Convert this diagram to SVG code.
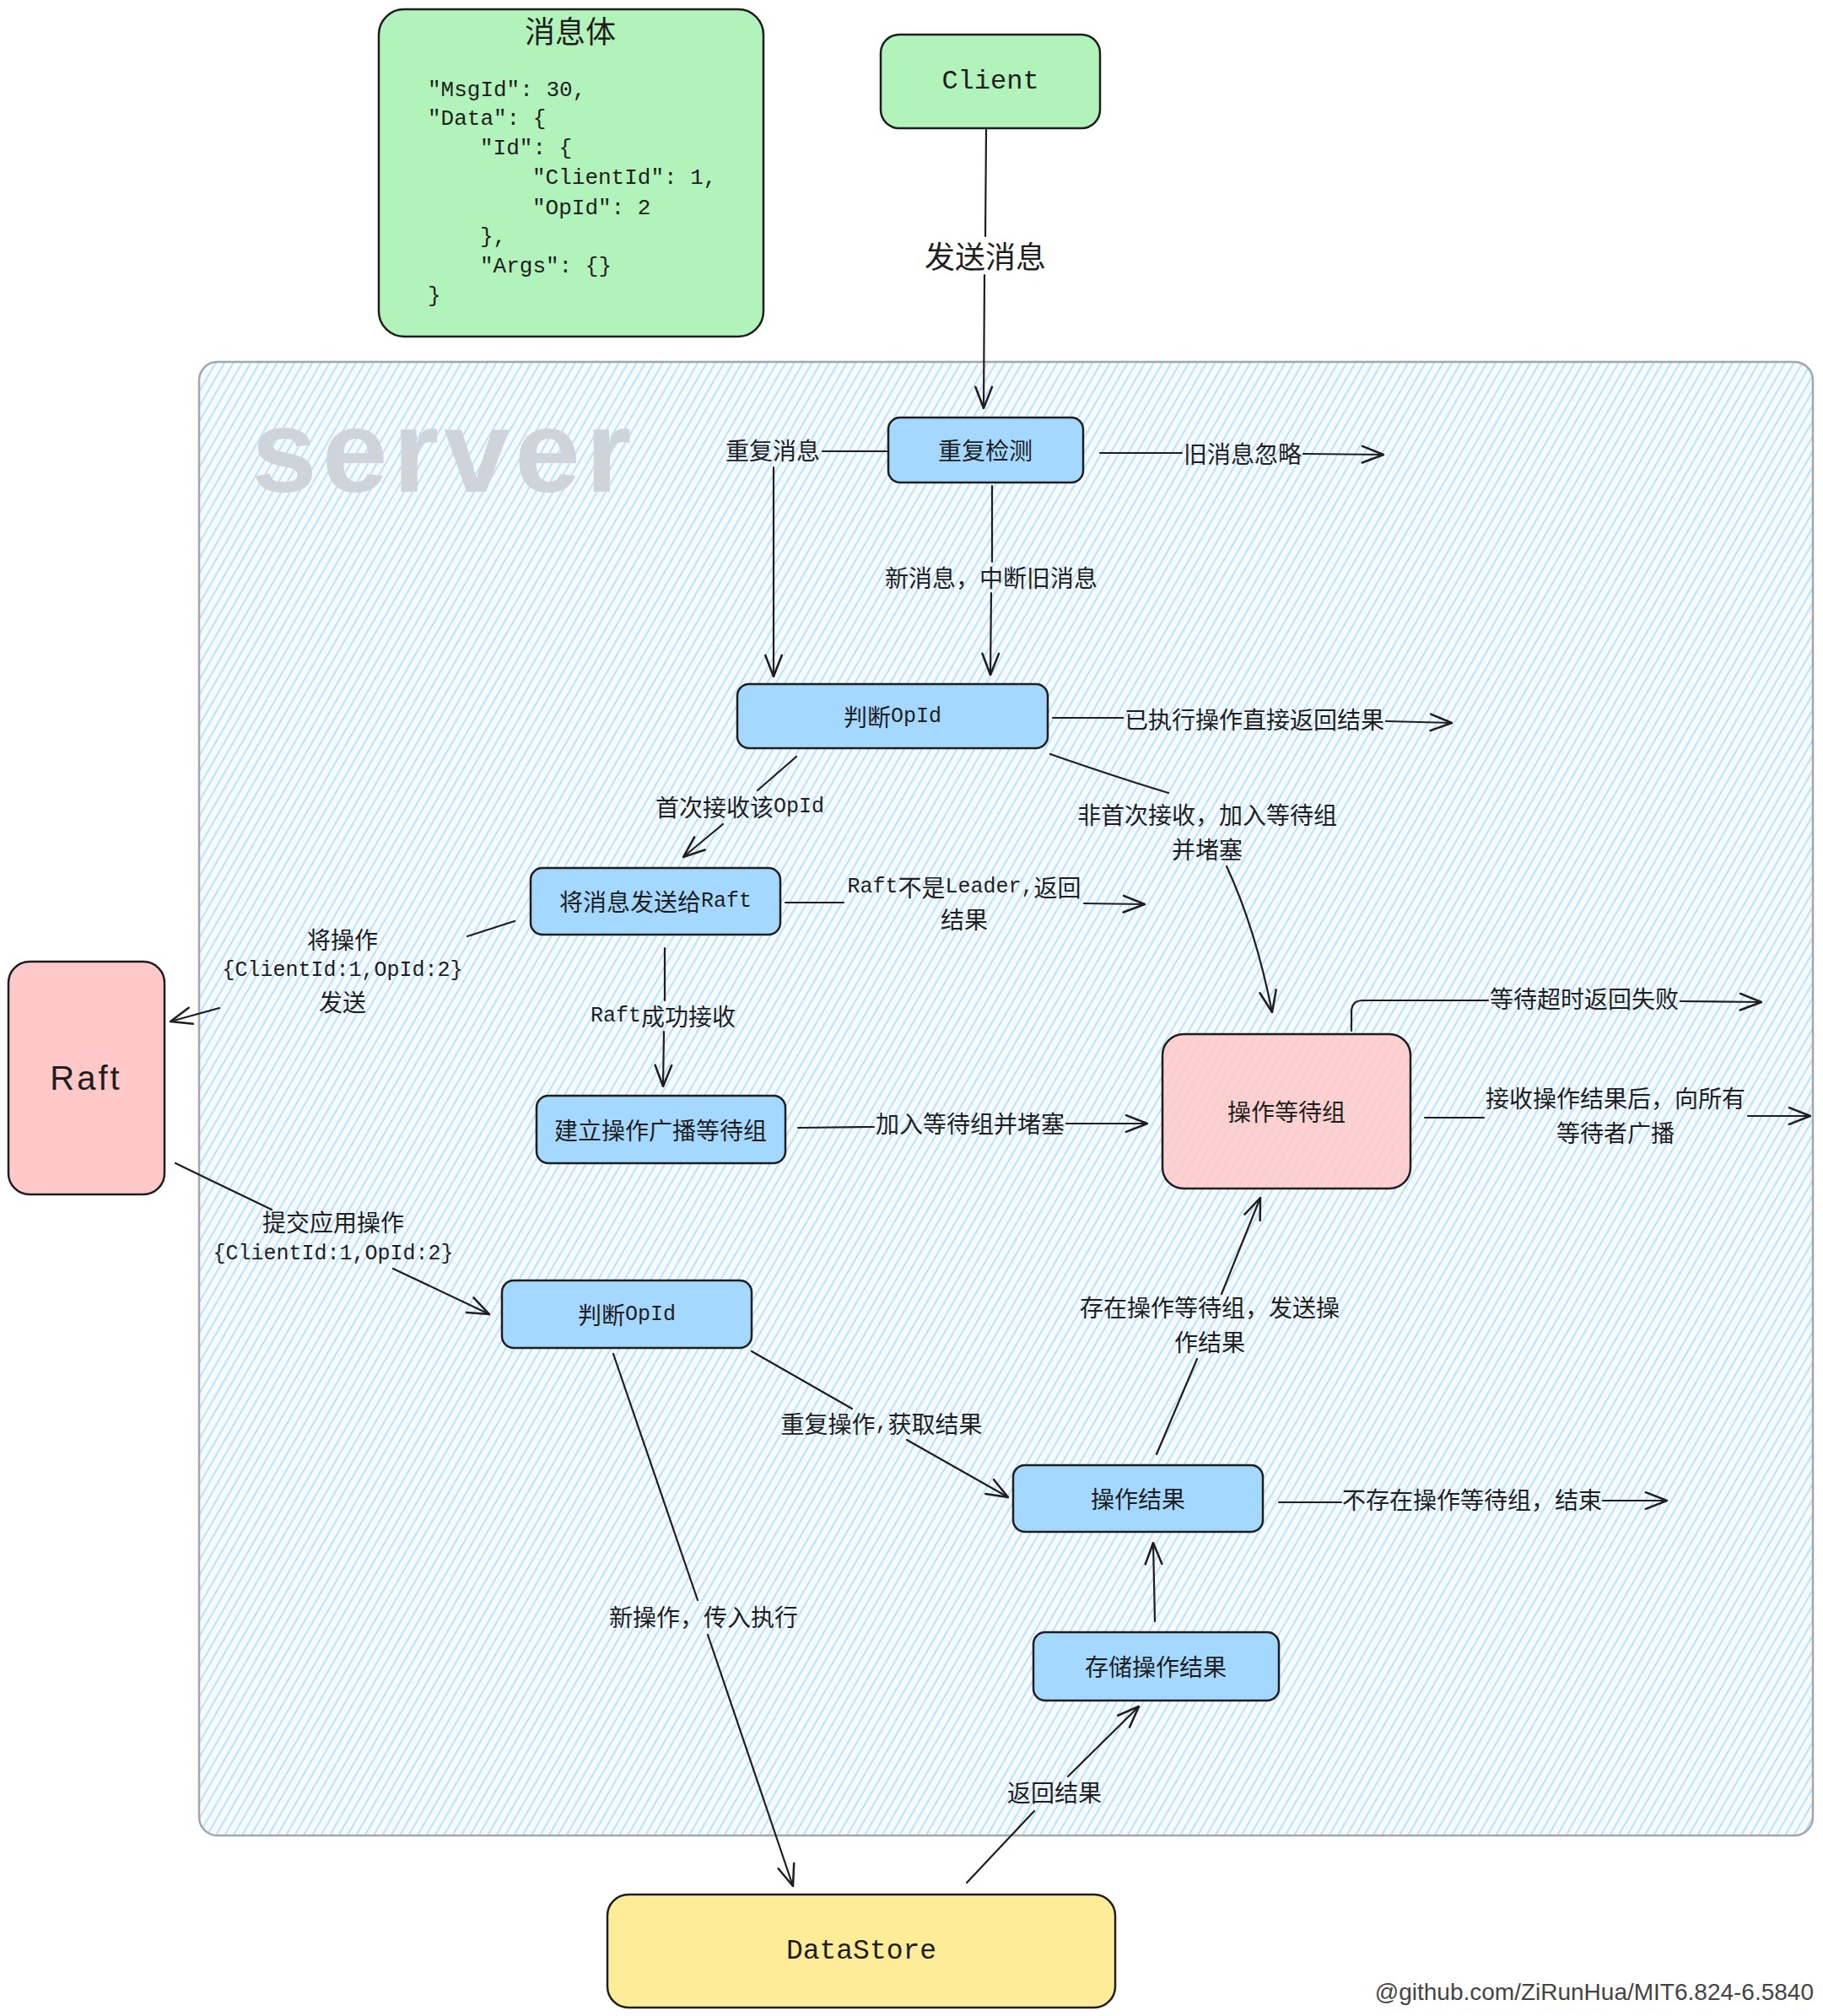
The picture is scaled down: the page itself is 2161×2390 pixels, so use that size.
<svg xmlns="http://www.w3.org/2000/svg" width="2161" height="2390" viewBox="0 0 2161 2390">
<defs>
<style>
.n{stroke:#1e1e1e;stroke-width:2.5}
.blue{fill:#a5d8ff}
.green{fill:#b2f2bb}
.pink{fill:#ffc9c9}
.t{font-family:"Noto Sans CJK SC","Liberation Sans",sans-serif;font-size:28px;fill:#1e1e1e;text-anchor:middle;dominant-baseline:central}
.m{font-family:"Liberation Mono","Noto Sans CJK SC",monospace;font-size:25px}
.big{font-size:36px}
.mono{font-family:"Liberation Mono",monospace}
.code{font-family:"Liberation Mono","Noto Sans CJK SC",monospace;font-size:26px;fill:#1e1e1e;dominant-baseline:central}
.e{fill:none;stroke:#1e1e1e;stroke-width:2.2;stroke-linecap:round}
.a{marker-end:url(#ah)}
</style>
<marker id="ah" viewBox="0 0 20 20" refX="19" refY="10" markerWidth="28" markerHeight="28" markerUnits="userSpaceOnUse" orient="auto">
<path d="M1,3 L19,10 L1,17" fill="none" stroke="#1e1e1e" stroke-width="1.8" stroke-linecap="round" stroke-linejoin="round"/>
</marker>
<pattern id="hach" patternUnits="userSpaceOnUse" width="9" height="9" patternTransform="rotate(30)">
<rect width="9" height="9" fill="#f6fbff"/>
<line x1="4.5" y1="0" x2="4.5" y2="9" stroke="#a5d8ff" stroke-width="1.5"/>
</pattern>
</defs>
<rect width="2161" height="2390" fill="#ffffff"/>

<g id="server">
<rect x="236" y="429" width="1913" height="1747" rx="22" fill="url(#hach)" stroke="#a3a7ab" stroke-width="2.5"/>
<text x="298" y="583" font-family="Liberation Sans, sans-serif" font-weight="bold" font-size="140" letter-spacing="6" fill="#ced4da">server</text>
</g>

<g id="msgbody">
<rect class="n green" x="449" y="11" width="456" height="388" rx="30"/>
<text class="t big" x="676" y="35">消息体</text>
<text class="code" x="507" y="107">"MsgId": 30,</text>
<text class="code" x="507" y="141">"Data": {</text>
<text class="code" x="569" y="176">"Id": {</text>
<text class="code" x="631" y="211">"ClientId": 1,</text>
<text class="code" x="631" y="247">"OpId": 2</text>
<text class="code" x="569" y="281">},</text>
<text class="code" x="569" y="316">"Args": {}</text>
<text class="code" x="507" y="351">}</text>
</g>

<g id="client">
<rect class="n green" x="1044" y="41" width="260" height="111" rx="22"/>
<text class="t mono" x="1174" y="96" style="font-size:32px">Client</text>
</g>

<g id="dup-check">
<rect class="n blue" x="1053" y="495" width="231" height="77" rx="14"/>
<text class="t" x="1168" y="533">重复检测</text>
</g>

<g id="judge-opid-1">
<rect class="n blue" x="874" y="811" width="368" height="76" rx="14"/>
<text class="t" x="1058" y="849">判断<tspan class="m">OpId</tspan></text>
</g>

<g id="send-raft">
<rect class="n blue" x="629" y="1029" width="296" height="79" rx="14"/>
<text class="t" x="777" y="1068">将消息发送给<tspan class="m">Raft</tspan></text>
</g>

<g id="build-group">
<rect class="n blue" x="636" y="1299" width="295" height="80" rx="14"/>
<text class="t" x="783" y="1339">建立操作广播等待组</text>
</g>

<g id="wait-group">
<rect class="n pink" x="1378" y="1226" width="294" height="183" rx="25" fill-opacity="0.85"/>
<text class="t" x="1525" y="1317">操作等待组</text>
</g>

<g id="raft">
<rect class="n pink" x="10" y="1140" width="185" height="276" rx="25"/>
<text class="t" x="102" y="1278" style="font-family:'Liberation Sans',sans-serif;font-size:40px;letter-spacing:3px">Raft</text>
</g>

<g id="judge-opid-2">
<rect class="n blue" x="595" y="1518" width="296" height="80" rx="14"/>
<text class="t" x="743" y="1558">判断<tspan class="m">OpId</tspan></text>
</g>

<g id="op-result">
<rect class="n blue" x="1201" y="1737" width="296" height="79" rx="14"/>
<text class="t" x="1349" y="1776">操作结果</text>
</g>

<g id="store-result">
<rect class="n blue" x="1225" y="1935" width="291" height="81" rx="14"/>
<text class="t" x="1370" y="1975">存储操作结果</text>
</g>

<g id="datastore">
<rect class="n" fill="#ffec99" x="720" y="2246" width="602" height="134" rx="25"/>
<text class="t mono" x="1021" y="2313" style="font-size:33px">DataStore</text>
</g>

<g id="connectors">
<!-- Client -> dup check -->
<path class="e" d="M1169,154 L1168,280"/>
<path class="e a" d="M1167,326 L1166,484"/>
<text class="t big" x="1168" y="302">发送消息</text>

<!-- dup -> judge (重复消息) -->
<path class="e" d="M1051,535 L975,535"/>
<path class="e a" d="M917,554 L917,802"/>
<text class="t" x="916" y="533">重复消息</text>

<!-- dup -> judge (新消息) -->
<path class="e" d="M1176,576 L1176,666"/>
<path class="e a" d="M1175,703 L1174,800"/>
<text class="t" x="1175" y="684">新消息，中断旧消息</text>

<!-- dup -> 旧消息忽略 -->
<path class="e" d="M1304,537 L1401,537"/>
<path class="e a" d="M1545,538 L1640,539"/>
<text class="t" x="1473" y="537">旧消息忽略</text>

<!-- judge -> 已执行 -->
<path class="e" d="M1248,851 L1331,851"/>
<path class="e a" d="M1643,855 L1721,857"/>
<text class="t" x="1487" y="852">已执行操作直接返回结果</text>

<!-- judge -> send raft -->
<path class="e" d="M944,897 L898,937"/>
<path class="e a" d="M857,977 L810,1016"/>
<text class="t" x="877" y="956">首次接收该<tspan class="m">OpId</tspan></text>

<!-- judge -> wait group -->
<path class="e" d="M1245,894 Q1325,922 1385,940"/>
<path class="e a" d="M1454,1027 Q1488,1100 1508,1200"/>
<text class="t"><tspan x="1431" y="965">非首次接收，加入等待组</tspan><tspan x="1431" y="1006">并堵塞</tspan></text>

<!-- send raft -> Raft不是Leader -->
<path class="e" d="M931,1070 L1000,1070"/>
<path class="e a" d="M1285,1071 L1357,1072"/>
<text class="t"><tspan x="1143" y="1051"><tspan class="m">Raft</tspan>不是<tspan class="m">Leader,</tspan>返回</tspan><tspan x="1143" y="1089">结果</tspan></text>

<!-- send raft -> Raft -->
<path class="e" d="M610,1092 L554,1110"/>
<path class="e a" d="M260,1195 L202,1211"/>
<text class="t"><tspan x="406" y="1113">将操作</tspan><tspan class="m" x="406" y="1150">{ClientId:1,OpId:2}</tspan><tspan x="406" y="1187">发送</tspan></text>

<!-- send raft -> build group -->
<path class="e" d="M788,1124 L788,1186"/>
<path class="e a" d="M787,1223 L786,1288"/>
<text class="t" x="786" y="1204"><tspan class="m">Raft</tspan>成功接收</text>

<!-- build group -> wait group -->
<path class="e" d="M946,1337 L1036,1336"/>
<path class="e a" d="M1264,1332 L1360,1332"/>
<text class="t" x="1150" y="1331">加入等待组并堵塞</text>

<!-- wait group -> timeout -->
<path class="e" d="M1602,1222 L1602,1200 Q1602,1186 1616,1186 L1764,1186"/>
<path class="e a" d="M1992,1187 L2088,1188"/>
<text class="t" x="1878" y="1183">等待超时返回失败</text>

<!-- wait group -> broadcast -->
<path class="e" d="M1689,1325 L1759,1325"/>
<path class="e a" d="M2072,1323 L2146,1323"/>
<text class="t"><tspan x="1915" y="1301">接收操作结果后，向所有</tspan><tspan x="1915" y="1342">等待者广播</tspan></text>

<!-- Raft -> judge 2 -->
<path class="e" d="M208,1379 L322,1434"/>
<path class="e a" d="M466,1504 L580,1558"/>
<text class="t"><tspan x="395" y="1448">提交应用操作</tspan><tspan class="m" x="395" y="1486">{ClientId:1,OpId:2}</tspan></text>

<!-- judge 2 -> DataStore -->
<path class="e" d="M727,1605 L827,1897" stroke-width="3"/>
<path class="e a" d="M839,1938 L940,2236" stroke-width="3"/>
<text class="t" x="834" y="1916">新操作，传入执行</text>

<!-- judge 2 -> op result -->
<path class="e" d="M891,1602 L1010,1670"/>
<path class="e a" d="M1075,1707 L1195,1775"/>
<text class="t" x="1045" y="1687">重复操作<tspan class="m">,</tspan>获取结果</text>

<!-- op result -> wait group -->
<path class="e" d="M1371,1724 L1419,1611"/>
<path class="e a" d="M1448,1534 L1494,1420"/>
<text class="t"><tspan x="1434" y="1549">存在操作等待组，发送操</tspan><tspan x="1434" y="1590">作结果</tspan></text>

<!-- op result -> end -->
<path class="e" d="M1516,1781 L1590,1781"/>
<path class="e a" d="M1900,1779 L1976,1779"/>
<text class="t" x="1745" y="1777">不存在操作等待组，结束</text>

<!-- store result -> op result -->
<path class="e a" d="M1369,1922 L1367,1829" stroke-width="2.6"/>

<!-- DataStore -> store result -->
<path class="e" d="M1146,2232 L1226,2147" stroke-width="3"/>
<path class="e a" d="M1266,2106 L1350,2023" stroke-width="3"/>
<text class="t" x="1250" y="2124">返回结果</text>
</g>

<text x="2150" y="2361" font-family="Liberation Sans, sans-serif" font-size="28" fill="#444" text-anchor="end" dominant-baseline="central">@github.com/ZiRunHua/MIT6.824-6.5840</text>
</svg>
